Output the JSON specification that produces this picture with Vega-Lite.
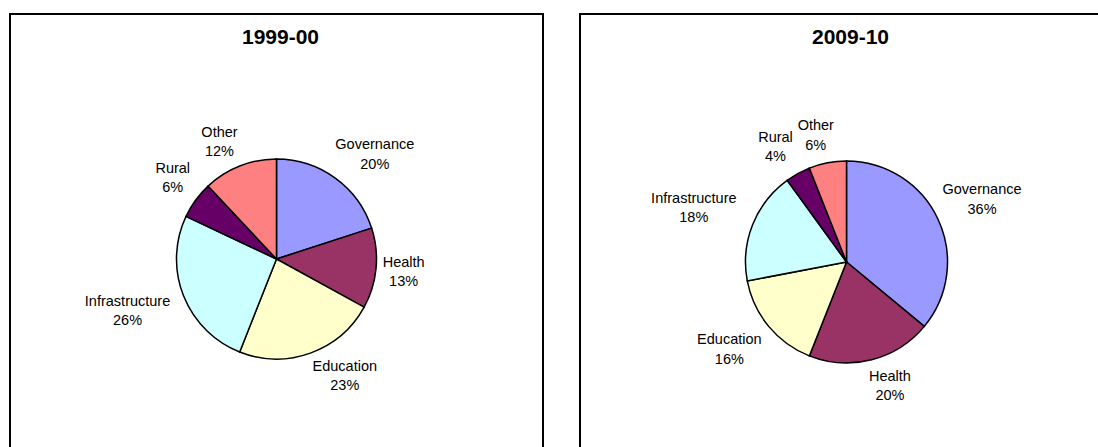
{
  "$schema": "https://vega.github.io/schema/vega-lite/v6.json",
  "padding": {"left": 9, "top": 13, "right": 0, "bottom": 0},
  "background": "white",
  "datasets": {
    "shares": [
      {"year": "1999-00", "category": "Governance", "share": 20, "rank": 1},
      {"year": "1999-00", "category": "Health", "share": 13, "rank": 2},
      {"year": "1999-00", "category": "Education", "share": 23, "rank": 3},
      {"year": "1999-00", "category": "Infrastructure", "share": 26, "rank": 4},
      {"year": "1999-00", "category": "Rural", "share": 6, "rank": 5},
      {"year": "1999-00", "category": "Other", "share": 12, "rank": 6},
      {"year": "2009-10", "category": "Governance", "share": 36, "rank": 1},
      {"year": "2009-10", "category": "Health", "share": 20, "rank": 2},
      {"year": "2009-10", "category": "Education", "share": 16, "rank": 3},
      {"year": "2009-10", "category": "Infrastructure", "share": 18, "rank": 4},
      {"year": "2009-10", "category": "Rural", "share": 4, "rank": 5},
      {"year": "2009-10", "category": "Other", "share": 6, "rank": 6}
    ]
  },
  "config": {
    "view": {"stroke": "#000000", "strokeWidth": 2, "fill": "white"},
    "font": "Liberation Sans",
    "title": {
      "fontSize": 21,
      "fontWeight": "bold",
      "color": "#000000",
      "anchor": "middle",
      "offset": -34,
      "dx": 4,
      "baseline": "alphabetic"
    },
    "text": {
      "fontSize": 14.5,
      "lineBreak": "\n",
      "lineHeight": 19.5,
      "color": "#000000",
      "align": "center",
      "baseline": "middle",
      "dx": {"expr": "clamp(sin(PI * (datum.share_start + datum.share_end) / 100) * 3, -1, 1) * length(datum.category) * 3.6"},
      "dy": {"expr": "-clamp(cos(PI * (datum.share_start + datum.share_end) / 100) * 2, -1, 1) * 18 - 9.75"}
    }
  },
  "spacing": 35,
  "hconcat": [
    {
      "title": {"text": "1999-00"},
      "width": 533,
      "height": 490,
      "view": {"stroke": "#000000", "strokeWidth": 2, "fill": "white"},
      "data": {"name": "shares"},
      "transform": [
        {"filter": "datum.year === '1999-00'"},
        {"calculate": "datum.category + '\\n' + datum.share + '%'", "as": "label"}
      ],
      "encoding": {
        "theta": {"field": "share", "type": "quantitative", "stack": true},
        "order": {"field": "rank", "type": "quantitative"}
      },
      "layer": [
        {
          "mark": {"type": "arc", "outerRadius": 100, "stroke": "#000000", "strokeWidth": 1.5},
          "encoding": {
            "color": {
              "field": "category",
              "type": "nominal",
              "legend": null,
              "scale": {
                "domain": ["Governance", "Health", "Education", "Infrastructure", "Rural", "Other"],
                "range": ["#9999FF", "#993366", "#FFFFCC", "#CCFFFF", "#660066", "#FF8080"]
              }
            }
          }
        },
        {
          "mark": {"type": "text", "radius": 106},
          "encoding": {"text": {"field": "label", "type": "nominal"}}
        }
      ]
    },
    {
      "title": {"text": "2009-10"},
      "width": 533,
      "height": 496,
      "view": {"stroke": "#000000", "strokeWidth": 2, "fill": "white"},
      "data": {"name": "shares"},
      "transform": [
        {"filter": "datum.year === '2009-10'"},
        {"calculate": "datum.category + '\\n' + datum.share + '%'", "as": "label"}
      ],
      "encoding": {
        "theta": {"field": "share", "type": "quantitative", "stack": true},
        "order": {"field": "rank", "type": "quantitative"}
      },
      "layer": [
        {
          "mark": {"type": "arc", "outerRadius": 101, "stroke": "#000000", "strokeWidth": 1.5},
          "encoding": {
            "color": {
              "field": "category",
              "type": "nominal",
              "legend": null,
              "scale": {
                "domain": ["Governance", "Health", "Education", "Infrastructure", "Rural", "Other"],
                "range": ["#9999FF", "#993366", "#FFFFCC", "#CCFFFF", "#660066", "#FF8080"]
              }
            }
          }
        },
        {
          "mark": {"type": "text", "radius": 110},
          "encoding": {"text": {"field": "label", "type": "nominal"}}
        }
      ]
    }
  ]
}
